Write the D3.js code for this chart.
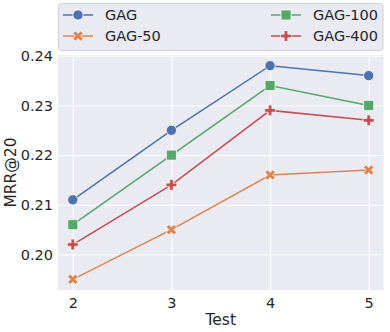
<!doctype html>
<html>
<head>
<script src="https://d3js.org/d3.v7.min.js"></script>
<style>
  body { margin: 0; background: #fff; }
  text { font-family: "DejaVu Sans", sans-serif; fill: #262626; }
</style>
</head>
<body>
<svg id="chart" width="390" height="332"></svg>
<script>
  var tests = [2, 3, 4, 5]
  var names = ['GAG', 'GAG-50', 'GAG-100', 'GAG-400']
  var gag = [0.211, 0.225, 0.238, 0.236]
  var gag50 = [0.195, 0.205, 0.216, 0.217]
  var gag100 = [0.206, 0.220, 0.234, 0.230]
  var gag400 = [0.202, 0.214, 0.229, 0.227]
  var yTicks = [0.20, 0.21, 0.22, 0.23, 0.24]
  var colors = ['#4c72b0', '#dd8452', '#55a868', '#c44e52']
  var shapes = [d3.symbolCircle, d3.symbolCross, d3.symbolSquare, d3.symbolCross]

  var series = [gag, gag50, gag100, gag400]

  var L = 58, R = 383.5, T = 55, B = 290
  var svg = d3.select('#chart')

  var x = d3.scaleLinear().domain([1.85, 5.15]).range([L, R])
  var y = d3.scaleLinear().domain([0.19285, 0.24015]).range([B, T])

  svg.append('rect').attr('x', L).attr('y', T).attr('width', R - L).attr('height', B - T).attr('fill', '#eaeaf2')

  var gx = svg.append('g').attr('transform', 'translate(0,' + B + ')')
    .call(d3.axisBottom(x).tickValues(tests).tickFormat(d3.format('d')).tickSize(-(B - T)).tickPadding(8))
  var gy = svg.append('g').attr('transform', 'translate(' + L + ',0)')
    .call(d3.axisLeft(y).tickValues(yTicks).tickFormat(d3.format('.2f')).tickSize(-(R - L)).tickPadding(5))
  ;[gx, gy].forEach(g => {
    g.select('.domain').remove()
    g.selectAll('line').attr('stroke', '#fff').attr('stroke-width', 1)
    g.selectAll('text').attr('font-size', 14.5).attr('fill', '#262626')
      .style('font-family', '"DejaVu Sans", sans-serif')
  })

  // x-shaped marker for GAG-50 (rotated cross)
  function marker(sel, i, size) {
    var sym = d3.symbol().type(shapes[i]).size(size)
    sel.append('path').attr('d', sym)
      .attr('transform', i === 1 ? 'rotate(45)' : null)
      .attr('fill', colors[i]).attr('stroke', '#fff').attr('stroke-width', 0.75)
  }
  var sizes = [82, 68, 100, 66]

  var line = d3.line().x((d, j) => x(tests[j])).y(d => y(d))
  series.forEach((vals, i) => {
    svg.append('path').datum(vals).attr('d', line)
      .attr('fill', 'none').attr('stroke', colors[i]).attr('stroke-width', 1.5)
    vals.forEach((v, j) => {
      var g = svg.append('g').attr('transform', 'translate(' + x(tests[j]) + ',' + y(v) + ')')
      marker(g, i, sizes[i])
    })
  })

  // legend
  var lg = svg.append('g')
  lg.append('rect').attr('x', 58.5).attr('y', 3.5).attr('width', 324.5).attr('height', 47)
    .attr('rx', 3).attr('fill', '#eaeaf2').attr('stroke', '#d0d0d8').attr('stroke-width', 1)
  var pos = [[63, 15], [63, 36], [271, 15], [271, 36]]
  names.forEach((n, i) => {
    var g = lg.append('g').attr('transform', 'translate(' + pos[i][0] + ',' + pos[i][1] + ')')
    g.append('line').attr('x1', 0).attr('x2', 30).attr('stroke', colors[i]).attr('stroke-width', 1.5)
    var m = g.append('g').attr('transform', 'translate(15,0)')
    marker(m, i, sizes[i])
    g.append('text').attr('x', 42).attr('y', 5.2).attr('font-size', 14.5).text(n)
  })

  svg.append('text').attr('x', (L + R) / 2).attr('y', 325).attr('text-anchor', 'middle')
    .attr('font-size', 15.5).text('Test')
  svg.append('text').attr('transform', 'translate(16,' + (T + B) / 2 + ') rotate(-90)')
    .attr('text-anchor', 'middle').attr('font-size', 15.5).text('MRR@20')
</script>
</body>
</html>
